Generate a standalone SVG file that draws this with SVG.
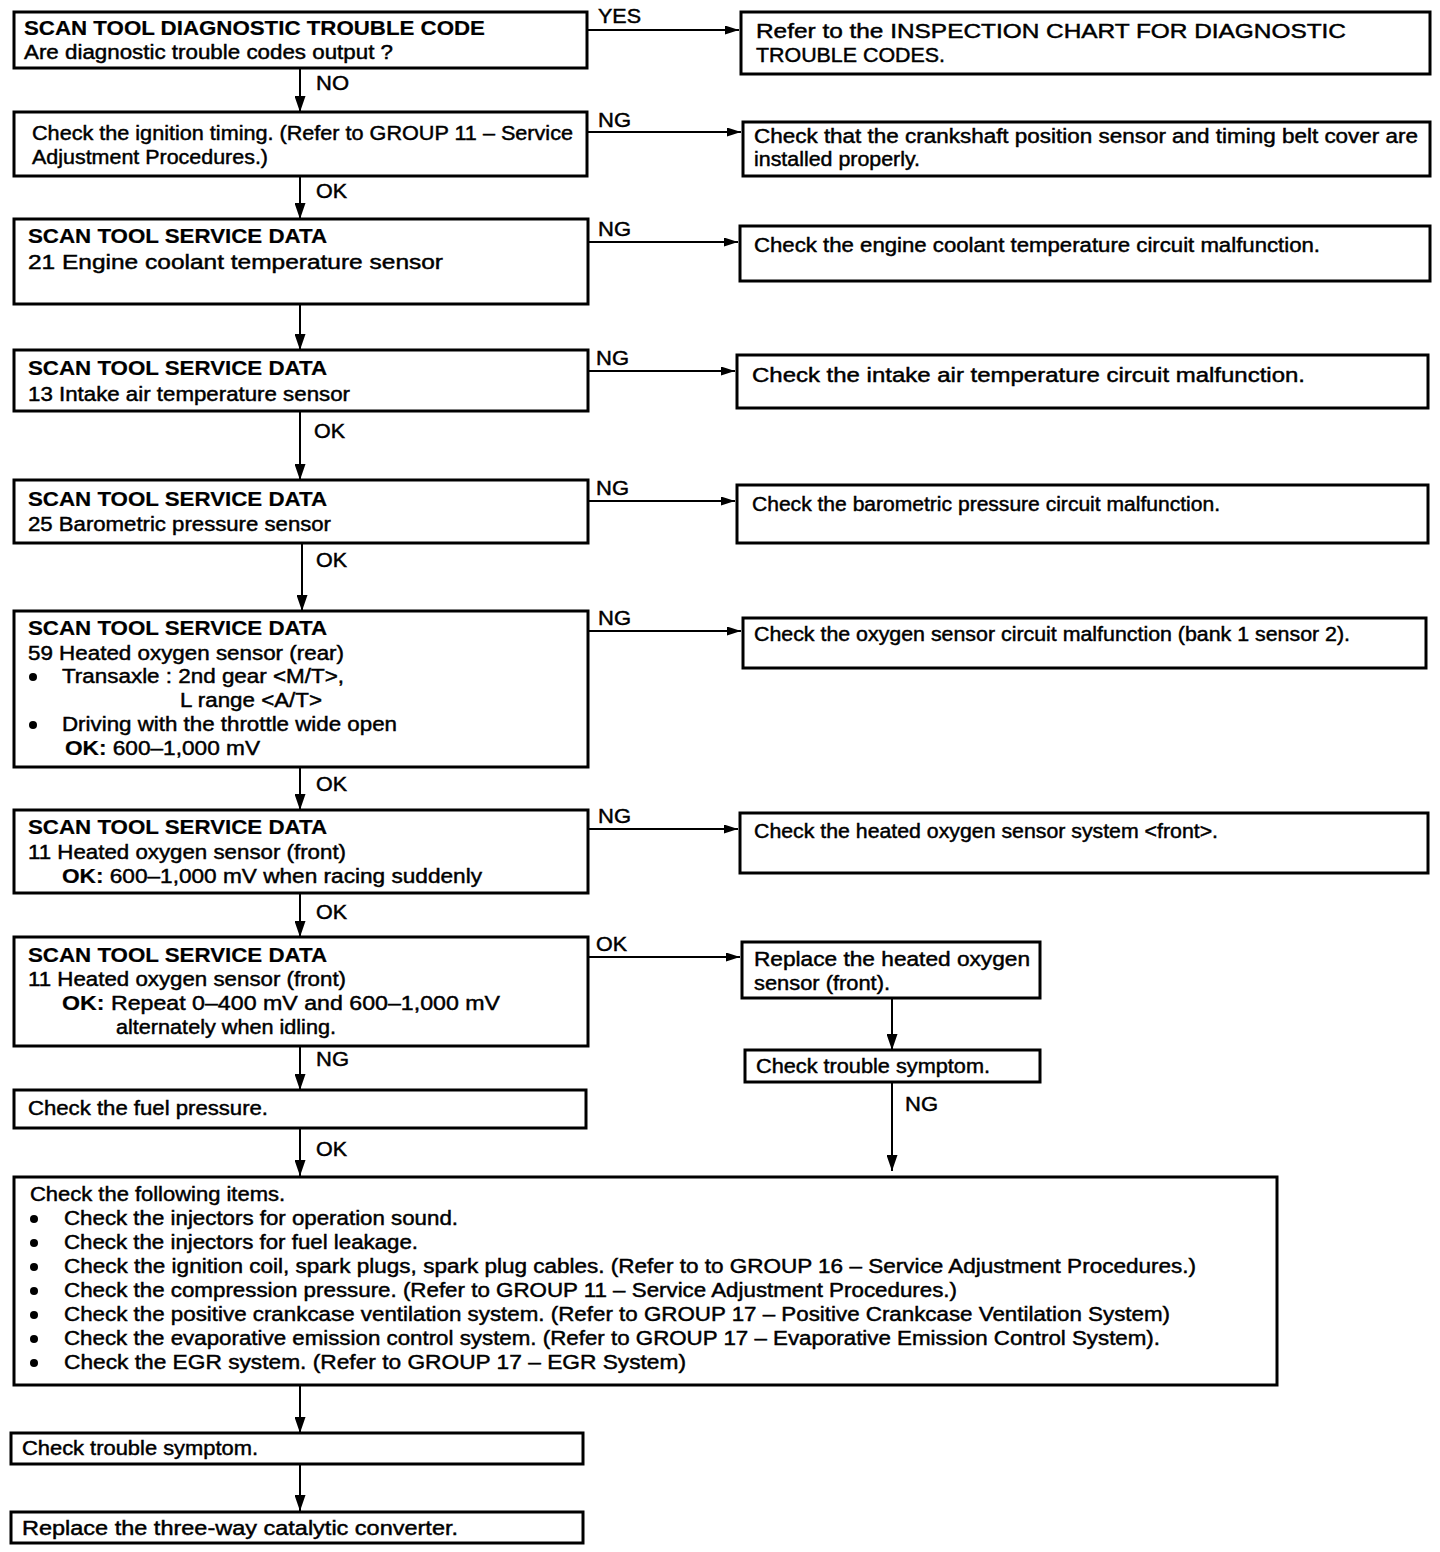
<svg xmlns="http://www.w3.org/2000/svg" width="1440" height="1552" viewBox="0 0 1440 1552">
<style>
.box{fill:#fff;stroke:#000;stroke-width:3}
.c{stroke:#000;stroke-width:2;fill:none}
text{font-family:"Liberation Sans",Arial,sans-serif;font-size:20px;fill:#000;stroke:#000;stroke-width:0.45}
.h{font-weight:bold;stroke-width:0.2}
.b{font-weight:bold;stroke-width:0.2}
.lbl{font-size:20px}
</style>
<defs>
<marker id="av" markerUnits="userSpaceOnUse" markerWidth="16" markerHeight="11" refX="16" refY="5.5" orient="auto" viewBox="0 0 16 11">
<path d="M0,0 L16,5.5 L0,11 z" fill="#000"/>
</marker>
<marker id="ah" markerUnits="userSpaceOnUse" markerWidth="14" markerHeight="9" refX="14" refY="4.5" orient="auto" viewBox="0 0 14 9">
<path d="M0,0 L14,4.5 L0,9 z" fill="#000"/>
</marker>
</defs>
<rect width="1440" height="1552" fill="#fff"/>

<g id="connectors">
<line class="c" x1="300" y1="68" x2="300" y2="112" marker-end="url(#av)"/>
<line class="c" x1="587" y1="30" x2="739" y2="30" marker-end="url(#ah)"/>
<line class="c" x1="587" y1="132" x2="741" y2="132" marker-end="url(#ah)"/>
<line class="c" x1="300" y1="176" x2="300" y2="219" marker-end="url(#av)"/>
<line class="c" x1="588" y1="242" x2="738" y2="242" marker-end="url(#ah)"/>
<line class="c" x1="300" y1="304" x2="300" y2="350" marker-end="url(#av)"/>
<line class="c" x1="588" y1="371" x2="735" y2="371" marker-end="url(#ah)"/>
<line class="c" x1="300" y1="411" x2="300" y2="480" marker-end="url(#av)"/>
<line class="c" x1="588" y1="501" x2="735" y2="501" marker-end="url(#ah)"/>
<line class="c" x1="302" y1="543" x2="302" y2="611" marker-end="url(#av)"/>
<line class="c" x1="588" y1="631" x2="741" y2="631" marker-end="url(#ah)"/>
<line class="c" x1="300" y1="767" x2="300" y2="810" marker-end="url(#av)"/>
<line class="c" x1="588" y1="829" x2="738" y2="829" marker-end="url(#ah)"/>
<line class="c" x1="300" y1="893" x2="300" y2="937" marker-end="url(#av)"/>
<line class="c" x1="588" y1="957" x2="740" y2="957" marker-end="url(#ah)"/>
<line class="c" x1="892" y1="998" x2="892" y2="1050" marker-end="url(#av)"/>
<line class="c" x1="892" y1="1082" x2="892" y2="1171" marker-end="url(#av)"/>
<line class="c" x1="300" y1="1046" x2="300" y2="1090" marker-end="url(#av)"/>
<line class="c" x1="300" y1="1128" x2="300" y2="1176" marker-end="url(#av)"/>
<line class="c" x1="300" y1="1385" x2="300" y2="1433" marker-end="url(#av)"/>
<line class="c" x1="300" y1="1464" x2="300" y2="1511" marker-end="url(#av)"/>
<text class="lbl" x="598" y="23" textLength="43" lengthAdjust="spacingAndGlyphs">YES</text>
<text class="lbl" x="316" y="90" textLength="33" lengthAdjust="spacingAndGlyphs">NO</text>
<text class="lbl" x="598" y="127" textLength="33" lengthAdjust="spacingAndGlyphs">NG</text>
<text class="lbl" x="316" y="198" textLength="31" lengthAdjust="spacingAndGlyphs">OK</text>
<text class="lbl" x="598" y="236" textLength="33" lengthAdjust="spacingAndGlyphs">NG</text>
<text class="lbl" x="596" y="365" textLength="33" lengthAdjust="spacingAndGlyphs">NG</text>
<text class="lbl" x="314" y="438" textLength="31" lengthAdjust="spacingAndGlyphs">OK</text>
<text class="lbl" x="596" y="495" textLength="33" lengthAdjust="spacingAndGlyphs">NG</text>
<text class="lbl" x="316" y="567" textLength="31" lengthAdjust="spacingAndGlyphs">OK</text>
<text class="lbl" x="598" y="625" textLength="33" lengthAdjust="spacingAndGlyphs">NG</text>
<text class="lbl" x="316" y="791" textLength="31" lengthAdjust="spacingAndGlyphs">OK</text>
<text class="lbl" x="598" y="823" textLength="33" lengthAdjust="spacingAndGlyphs">NG</text>
<text class="lbl" x="316" y="919" textLength="31" lengthAdjust="spacingAndGlyphs">OK</text>
<text class="lbl" x="596" y="951" textLength="31" lengthAdjust="spacingAndGlyphs">OK</text>
<text class="lbl" x="316" y="1066" textLength="33" lengthAdjust="spacingAndGlyphs">NG</text>
<text class="lbl" x="905" y="1111" textLength="33" lengthAdjust="spacingAndGlyphs">NG</text>
<text class="lbl" x="316" y="1156" textLength="31" lengthAdjust="spacingAndGlyphs">OK</text>
</g>

<g id="n1">
<rect class="box" x="14" y="12" width="573" height="56"/>
<text class="h" x="24" y="35" textLength="461" lengthAdjust="spacingAndGlyphs">SCAN TOOL DIAGNOSTIC TROUBLE CODE</text>
<text x="24" y="59" textLength="369" lengthAdjust="spacingAndGlyphs">Are diagnostic trouble codes output ?</text>
</g>
<g id="r1">
<rect class="box" x="741" y="12" width="689" height="62"/>
<text x="756" y="38" textLength="590" lengthAdjust="spacingAndGlyphs">Refer  to  the INSPECTION  CHART  FOR  DIAGNOSTIC</text>
<text x="756" y="62" textLength="189" lengthAdjust="spacingAndGlyphs">TROUBLE CODES.</text>
</g>
<g id="n2">
<rect class="box" x="14" y="112" width="573" height="64"/>
<text x="32" y="140" textLength="541" lengthAdjust="spacingAndGlyphs">Check the ignition timing. (Refer to GROUP 11 – Service</text>
<text x="32" y="164" textLength="236" lengthAdjust="spacingAndGlyphs">Adjustment Procedures.)</text>
</g>
<g id="r2">
<rect class="box" x="743" y="122" width="687" height="54"/>
<text x="754" y="143" textLength="664" lengthAdjust="spacingAndGlyphs">Check that the crankshaft position sensor and timing belt cover are</text>
<text x="754" y="166" textLength="166" lengthAdjust="spacingAndGlyphs">installed properly.</text>
</g>
<g id="n3">
<rect class="box" x="14" y="219" width="574" height="85"/>
<text class="h" x="28" y="243" textLength="299" lengthAdjust="spacingAndGlyphs">SCAN TOOL SERVICE DATA</text>
<text x="28" y="269" textLength="415" lengthAdjust="spacingAndGlyphs">21  Engine  coolant  temperature  sensor</text>
</g>
<g id="r3">
<rect class="box" x="740" y="226" width="690" height="55"/>
<text x="754" y="252" textLength="566" lengthAdjust="spacingAndGlyphs">Check the engine coolant temperature circuit malfunction.</text>
</g>
<g id="n4">
<rect class="box" x="14" y="350" width="574" height="61"/>
<text class="h" x="28" y="375" textLength="299" lengthAdjust="spacingAndGlyphs">SCAN TOOL SERVICE DATA</text>
<text x="28" y="401" textLength="322" lengthAdjust="spacingAndGlyphs">13 Intake air temperature sensor</text>
</g>
<g id="r4">
<rect class="box" x="737" y="355" width="691" height="53"/>
<text x="752" y="382" textLength="553" lengthAdjust="spacingAndGlyphs">Check  the  intake  air  temperature  circuit  malfunction.</text>
</g>
<g id="n5">
<rect class="box" x="14" y="480" width="574" height="63"/>
<text class="h" x="28" y="506" textLength="299" lengthAdjust="spacingAndGlyphs">SCAN TOOL SERVICE DATA</text>
<text x="28" y="531" textLength="303" lengthAdjust="spacingAndGlyphs">25 Barometric pressure sensor</text>
</g>
<g id="r5">
<rect class="box" x="737" y="485" width="691" height="58"/>
<text x="752" y="511" textLength="468" lengthAdjust="spacingAndGlyphs">Check the barometric pressure circuit malfunction.</text>
</g>
<g id="n6">
<rect class="box" x="14" y="611" width="574" height="156"/>
<text class="h" x="28" y="635" textLength="299" lengthAdjust="spacingAndGlyphs">SCAN TOOL SERVICE DATA</text>
<text x="28" y="660" textLength="316" lengthAdjust="spacingAndGlyphs">59 Heated oxygen sensor (rear)</text>
<circle cx="33" cy="677" r="4"/>
<text x="62" y="683" textLength="282" lengthAdjust="spacingAndGlyphs">Transaxle : 2nd gear &lt;M/T&gt;,</text>
<text x="180" y="707" textLength="142" lengthAdjust="spacingAndGlyphs">L range &lt;A/T&gt;</text>
<circle cx="33" cy="725" r="4"/>
<text x="62" y="731" textLength="335" lengthAdjust="spacingAndGlyphs">Driving with the throttle wide open</text>
<text x="65" y="755" textLength="195" lengthAdjust="spacingAndGlyphs"><tspan class="b">OK:</tspan> 600–1,000 mV</text>
</g>
<g id="r6">
<rect class="box" x="743" y="618" width="683" height="50"/>
<text x="754" y="641" textLength="596" lengthAdjust="spacingAndGlyphs">Check the oxygen sensor circuit malfunction (bank 1 sensor 2).</text>
</g>
<g id="n7">
<rect class="box" x="14" y="810" width="574" height="83"/>
<text class="h" x="28" y="834" textLength="299" lengthAdjust="spacingAndGlyphs">SCAN TOOL SERVICE DATA</text>
<text x="28" y="859" textLength="318" lengthAdjust="spacingAndGlyphs">11 Heated oxygen sensor (front)</text>
<text x="62" y="883" textLength="420" lengthAdjust="spacingAndGlyphs"><tspan class="b">OK:</tspan>  600–1,000 mV when racing suddenly</text>
</g>
<g id="r7">
<rect class="box" x="740" y="813" width="688" height="60"/>
<text x="754" y="838" textLength="464" lengthAdjust="spacingAndGlyphs">Check the heated oxygen sensor system &lt;front&gt;.</text>
</g>
<g id="n8">
<rect class="box" x="14" y="937" width="574" height="109"/>
<text class="h" x="28" y="962" textLength="299" lengthAdjust="spacingAndGlyphs">SCAN TOOL SERVICE DATA</text>
<text x="28" y="986" textLength="318" lengthAdjust="spacingAndGlyphs">11 Heated oxygen sensor (front)</text>
<text x="62" y="1010" textLength="438" lengthAdjust="spacingAndGlyphs"><tspan class="b">OK:</tspan>  Repeat 0–400 mV and 600–1,000 mV</text>
<text x="116" y="1034" textLength="220" lengthAdjust="spacingAndGlyphs">alternately when idling.</text>
</g>
<g id="r8">
<rect class="box" x="742" y="942" width="298" height="56"/>
<text x="754" y="966" textLength="276" lengthAdjust="spacingAndGlyphs">Replace  the  heated  oxygen</text>
<text x="754" y="990" textLength="136" lengthAdjust="spacingAndGlyphs">sensor (front).</text>
</g>
<g id="r9">
<rect class="box" x="745" y="1050" width="295" height="32"/>
<text x="756" y="1073" textLength="234" lengthAdjust="spacingAndGlyphs">Check trouble symptom.</text>
</g>
<g id="n9">
<rect class="box" x="14" y="1090" width="572" height="38"/>
<text x="28" y="1115" textLength="240" lengthAdjust="spacingAndGlyphs">Check the fuel pressure.</text>
</g>
<g id="n10">
<rect class="box" x="14" y="1177" width="1263" height="208"/>
<text x="30" y="1201" textLength="255" lengthAdjust="spacingAndGlyphs">Check the following items.</text>
<circle cx="34" cy="1219" r="4"/>
<text x="64" y="1225" textLength="394" lengthAdjust="spacingAndGlyphs">Check the injectors for operation sound.</text>
<circle cx="34" cy="1243" r="4"/>
<text x="64" y="1249" textLength="354" lengthAdjust="spacingAndGlyphs">Check the injectors for fuel leakage.</text>
<circle cx="34" cy="1267" r="4"/>
<text x="64" y="1273" textLength="1132" lengthAdjust="spacingAndGlyphs">Check the ignition coil, spark plugs, spark plug cables. (Refer to to GROUP 16 – Service Adjustment Procedures.)</text>
<circle cx="34" cy="1291" r="4"/>
<text x="64" y="1297" textLength="893" lengthAdjust="spacingAndGlyphs">Check the compression pressure. (Refer to GROUP 11 – Service Adjustment Procedures.)</text>
<circle cx="34" cy="1315" r="4"/>
<text x="64" y="1321" textLength="1106" lengthAdjust="spacingAndGlyphs">Check the positive crankcase ventilation system. (Refer to GROUP 17 – Positive Crankcase Ventilation System)</text>
<circle cx="34" cy="1339" r="4"/>
<text x="64" y="1345" textLength="1096" lengthAdjust="spacingAndGlyphs">Check the evaporative emission control system. (Refer to GROUP 17 – Evaporative Emission Control System).</text>
<circle cx="34" cy="1363" r="4"/>
<text x="64" y="1369" textLength="622" lengthAdjust="spacingAndGlyphs">Check the EGR system. (Refer to GROUP 17 – EGR System)</text>
</g>
<g id="n11">
<rect class="box" x="11" y="1433" width="572" height="31"/>
<text x="22" y="1455" textLength="236" lengthAdjust="spacingAndGlyphs">Check trouble symptom.</text>
</g>
<g id="n12">
<rect class="box" x="11" y="1512" width="572" height="31"/>
<text x="22" y="1535" textLength="436" lengthAdjust="spacingAndGlyphs">Replace the three-way catalytic converter.</text>
</g>
</svg>
